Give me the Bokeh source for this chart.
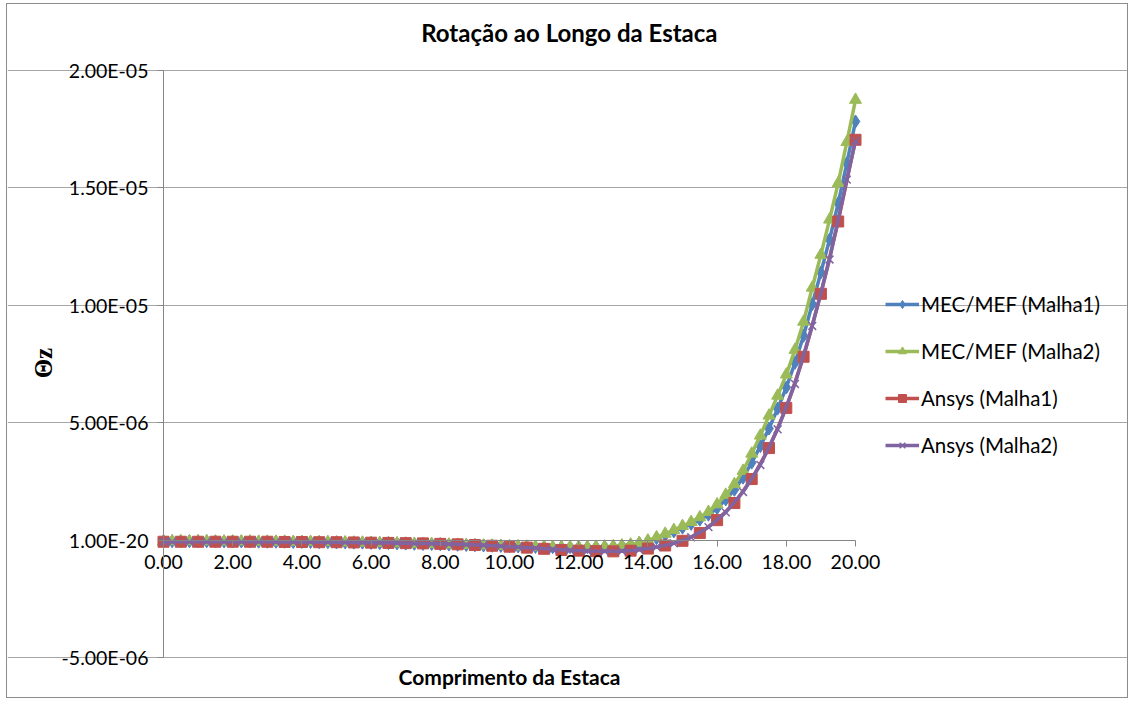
from bokeh.plotting import figure
from bokeh.models import (Range1d, Legend, LegendItem, Label, CustomJSTickFormatter,
                          FixedTicker, LinearAxis, Grid, NumeralTickFormatter)
from bokeh.embed import file_html
from bokeh.resources import INLINE
import math

# ---- data (rotation values in units of 1e-6 rad) ----
x_mef1 = [0.00, 0.25, 0.50, 0.75, 1.00, 1.25, 1.50, 1.75, 2.00, 2.25, 2.50, 2.75, 3.00, 3.25, 3.50, 3.75,
          4.00, 4.25, 4.50, 4.75, 5.00, 5.25, 5.50, 5.75, 6.00, 6.25, 6.50, 6.75, 7.00, 7.25, 7.50, 7.75,
          8.00, 8.25, 8.50, 8.75, 9.00, 9.25, 9.50, 9.75, 10.00, 10.25, 10.50, 10.75, 11.00, 11.25, 11.50, 11.75,
          12.00, 12.25, 12.50, 12.75, 13.00, 13.25, 13.50, 13.75, 14.00, 14.25, 14.50, 14.75, 15.00, 15.25, 15.50, 15.75,
          16.00, 16.25, 16.50, 16.75, 17.00, 17.25, 17.50, 17.75, 18.00, 18.25, 18.50, 18.75, 19.00, 19.25, 19.50, 19.75, 20.00]
y_mef1 = [-0.05, -0.05, -0.05, -0.05, -0.05, -0.05, -0.06, -0.06, -0.06, -0.06, -0.06, -0.07, -0.07, -0.07, -0.07, -0.08,
          -0.08, -0.08, -0.09, -0.09, -0.10, -0.10, -0.11, -0.11, -0.12, -0.13, -0.13, -0.14, -0.15, -0.16, -0.17, -0.17,
          -0.18, -0.19, -0.20, -0.21, -0.22, -0.23, -0.24, -0.25, -0.26, -0.27, -0.28, -0.29, -0.29, -0.30, -0.30, -0.30,
          -0.30, -0.30, -0.29, -0.28, -0.27, -0.24, -0.20, -0.13, -0.04, 0.08, 0.22, 0.37, 0.53, 0.69, 0.87, 1.08,
          1.36, 1.73, 2.14, 2.66, 3.30, 4.00, 4.75, 5.60, 6.50, 7.55, 8.70, 10.05, 11.40, 12.80, 14.35, 16.05, 17.83]

x_mef2 = [0.00, 0.25, 0.50, 0.75, 1.00, 1.25, 1.50, 1.75, 2.00, 2.25, 2.50, 2.75, 3.00, 3.25, 3.50, 3.75,
          4.00, 4.25, 4.50, 4.75, 5.00, 5.25, 5.50, 5.75, 6.00, 6.25, 6.50, 6.75, 7.00, 7.25, 7.50, 7.75,
          8.00, 8.25, 8.50, 8.75, 9.00, 9.25, 9.50, 9.75, 10.00, 10.25, 10.50, 10.75, 11.00, 11.25, 11.50, 11.75,
          12.00, 12.25, 12.50, 12.75, 13.00, 13.25, 13.50, 13.75, 14.00, 14.25, 14.50, 14.75, 15.00, 15.25, 15.50, 15.75,
          16.00, 16.25, 16.50, 16.75, 17.00, 17.25, 17.50, 17.75, 18.00, 18.25, 18.50, 18.75, 19.00, 19.25, 19.50, 19.75, 20.00]
y_mef2 = [-0.05, -0.05, -0.05, -0.05, -0.05, -0.05, -0.06, -0.06, -0.06, -0.06, -0.06, -0.07, -0.07, -0.07, -0.07, -0.08,
          -0.08, -0.08, -0.09, -0.09, -0.10, -0.10, -0.11, -0.11, -0.12, -0.13, -0.13, -0.14, -0.15, -0.16, -0.17, -0.17,
          -0.18, -0.19, -0.20, -0.21, -0.22, -0.23, -0.24, -0.25, -0.26, -0.27, -0.28, -0.29, -0.29, -0.30, -0.30, -0.30,
          -0.30, -0.30, -0.29, -0.28, -0.26, -0.23, -0.19, -0.12, -0.02, 0.12, 0.27, 0.43, 0.60, 0.77, 0.97, 1.20,
          1.52, 1.93, 2.38, 2.95, 3.68, 4.45, 5.30, 6.15, 7.05, 8.10, 9.30, 10.75, 12.15, 13.65, 15.20, 16.95, 18.75]

x_ans1 = [0.0, 0.5, 1.0, 1.5, 2.0, 2.5, 3.0, 3.5, 4.0, 4.5, 5.0, 5.5, 6.0, 6.5, 7.0, 7.5, 8.0, 8.5, 9.0, 9.5,
          10.0, 10.5, 11.0, 11.5, 12.0, 12.5, 13.0, 13.5, 14.0, 14.5, 15.0, 15.5, 16.0, 16.5, 17.0, 17.5, 18.0, 18.5,
          19.0, 19.5, 20.0]
y_ans1 = [-0.07, -0.07, -0.07, -0.07, -0.07, -0.07, -0.07, -0.08, -0.08, -0.09, -0.09, -0.10, -0.11, -0.12, -0.13,
          -0.14, -0.16, -0.18, -0.21, -0.24, -0.28, -0.32, -0.37, -0.42, -0.45, -0.47, -0.48, -0.45, -0.36, -0.23,
          -0.03, 0.30, 0.85, 1.58, 2.60, 3.92, 5.63, 7.81, 10.49, 13.57, 17.05]

x_ans2 = [0.00, 0.25, 0.75, 1.25, 1.75, 2.25, 2.75, 3.25, 3.75, 4.25, 4.75, 5.25, 5.75, 6.25, 6.75, 7.25, 7.75,
          8.25, 8.75, 9.25, 9.75, 10.25, 10.75, 11.25, 11.75, 12.25, 12.75, 13.25, 13.75, 14.25, 14.75, 15.25, 15.75,
          16.25, 16.75, 17.25, 17.75, 18.25, 18.75, 19.25, 19.75, 20.00]
y_ans2 = [-0.07, -0.07, -0.07, -0.07, -0.07, -0.07, -0.07, -0.08, -0.08, -0.08, -0.09, -0.10, -0.10, -0.11, -0.12,
          -0.14, -0.15, -0.17, -0.19, -0.22, -0.26, -0.30, -0.34, -0.39, -0.43, -0.46, -0.48, -0.47, -0.41, -0.30,
          -0.14, 0.12, 0.55, 1.18, 2.05, 3.20, 4.72, 6.65, 9.12, 11.95, 15.35, 17.00]

series_names = ["MEC/MEF (Malha1)", "MEC/MEF (Malha2)", "Ansys (Malha1)", "Ansys (Malha2)"]
x_ticks = [0, 2, 4, 6, 8, 10, 12, 14, 16, 18, 20]
y_ticks = [-5, 0, 5, 10, 15, 20]
grid_ticks = [-5, 5, 10, 15, 20]

title_text = "Rotação ao Longo da Estaca"
x_label = "Comprimento da Estaca"
y_label = "Θz"

FONT = "Lato"
AXIS_GRAY = "#868686"
TICK_SIZE = "19.5px"

# ---- layout (pixels inside the figure) ----
W, H = 1122, 695
PL, PR, PT, PB = 156, 848, 66, 653   # plot-area edges for x 0..20 and y 20..-5
px_x = (PR - PL) / 20.0
px_y = (PB - PT) / 25.0
x0 = 0 - PL / px_x
x1 = 20 + (W - PR) / px_x
y1 = 20 + PT / px_y
y0 = -5 - (H - PB) / px_y

p = figure(width=W, height=H, output_backend="svg", toolbar_location=None, title=None,
           x_range=Range1d(x0, x1), y_range=Range1d(y0, y1),
           x_axis_type=None, y_axis_type=None,
           min_border_left=0, min_border_right=0, min_border_top=0, min_border_bottom=0)
p.outline_line_color = None
p.background_fill_color = "white"
p.border_fill_color = "white"
p.styles = {"border": "1px solid #8c8c8c", "margin-left": "6px", "margin-top": "3px"}

yfmt = CustomJSTickFormatter(code="""
if (Math.abs(tick) < 1e-9) { return "1.00E-20"; }
const v = tick * 1e-6;
const s = v.toExponential(2);
const parts = s.split("e");
const n = Math.abs(parseInt(parts[1]));
const sign = parts[1][0] === "-" ? "-" : "+";
return parts[0] + "E" + sign + (n < 10 ? "0" : "") + n;
""")

yaxis = LinearAxis(ticker=FixedTicker(ticks=y_ticks), formatter=yfmt, fixed_location=0, bounds=(-5, 20))
yaxis.axis_line_color = AXIS_GRAY
yaxis.major_tick_line_color = AXIS_GRAY
yaxis.major_tick_in = 0
yaxis.major_tick_out = 6
yaxis.minor_tick_line_color = None
yaxis.major_label_text_font = FONT
yaxis.major_label_text_font_size = TICK_SIZE
yaxis.major_label_text_color = "black"
yaxis.major_label_standoff = 9
p.add_layout(yaxis, "left")

xaxis = LinearAxis(ticker=FixedTicker(ticks=x_ticks), formatter=NumeralTickFormatter(format="0.00"),
                   fixed_location=0, bounds=(0, 20))
xaxis.axis_line_color = AXIS_GRAY
xaxis.major_tick_line_color = AXIS_GRAY
xaxis.major_tick_in = 0
xaxis.major_tick_out = 6
xaxis.minor_tick_line_color = None
xaxis.major_label_text_font = FONT
xaxis.major_label_text_font_size = TICK_SIZE
xaxis.major_label_text_color = "black"
xaxis.major_label_standoff = 9
p.add_layout(xaxis, "below")

grid = Grid(dimension=1, ticker=FixedTicker(ticks=grid_ticks), bounds=(0, 20))
grid.grid_line_color = "#a6a6a6"
grid.grid_line_width = 1
p.add_layout(grid)

colors = ["#4F81BD", "#9BBB59", "#C0504D", "#8064A2"]
data = [(x_mef1, y_mef1, "diamond", 13), (x_mef2, y_mef2, "triangle", 12),
        (x_ans1, y_ans1, "square", 11), (x_ans2, y_ans2, "x", 11)]

items = []
for (xs, ys, marker, size), c, name in zip(data, colors, series_names):
    lr = p.line(xs, ys, line_color=c, line_width=3.5)
    if marker == "x":
        sr = p.scatter(xs, ys, marker="x", size=size, line_color=c, line_width=1.5)
    else:
        sr = p.scatter(xs, ys, marker=marker, size=size, fill_color=c, line_color=c)
    items.append(LegendItem(label=name, renderers=[lr, sr]))

legend = Legend(items=items, location=(878, 242))
legend.background_fill_alpha = 0
legend.border_line_color = None
legend.label_text_font = FONT
legend.label_text_font_size = "20.5px"
legend.label_text_color = "black"
legend.glyph_width = 34
legend.glyph_height = 20
legend.label_height = 20
legend.spacing = 23
legend.padding = 0
legend.margin = 0
legend.label_standoff = 2
p.add_layout(legend)

p.add_layout(Label(x=11.73, y=21.6, text=title_text, text_font=FONT, text_font_style="bold",
                   text_font_size="24px", text_color="black", text_align="center", text_baseline="middle"))
p.add_layout(Label(x=10, y=-5.80, text=x_label, text_font=FONT, text_font_style="bold",
                   text_font_size="21px", text_color="black", text_align="center", text_baseline="middle"))
p.add_layout(Label(x=-3.47, y=7.54, text=y_label, text_font="Liberation Serif", text_font_style="bold",
                   text_font_size="25px", text_color="black", text_align="center", text_baseline="middle",
                   angle=math.pi / 2))

open("out.html", "w").write(file_html(p, INLINE))
